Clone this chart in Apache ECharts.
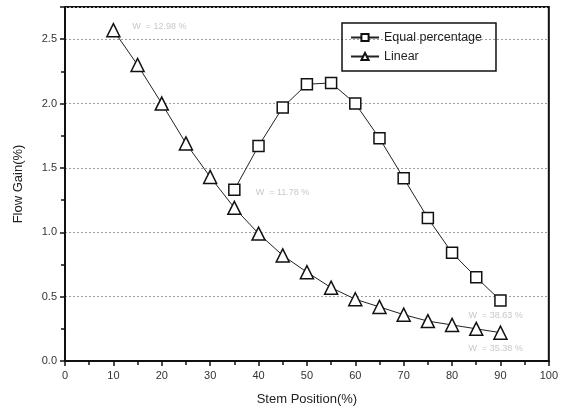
<!DOCTYPE html>
<html>
<head>
<meta charset="utf-8">
<script src="https://cdn.jsdelivr.net/npm/echarts@6/dist/echarts.min.js"></script>
<style>
  html, body { margin: 0; padding: 0; background: #fff; }
  #chart { width: 561px; height: 418px; }
</style>
</head>
<body>
<div id="chart"></div>
<script>
// stem position (%)
var stemEqual = [35, 40, 45, 50, 55, 60, 65, 70, 75, 80, 85, 90];
var gainEqual = [1.33, 1.67, 1.97, 2.15, 2.16, 2.00, 1.73, 1.42, 1.11, 0.84, 0.65, 0.47];
var stemLinear = [10, 15, 20, 25, 30, 35, 40, 45, 50, 55, 60, 65, 70, 75, 80, 85, 90];
var gainLinear = [2.57, 2.30, 2.00, 1.69, 1.43, 1.19, 0.99, 0.82, 0.69, 0.57, 0.48, 0.42, 0.36, 0.31, 0.28, 0.25, 0.22];
var seriesNames = ['Equal percentage', 'Linear'];

function pairs(xs, ys) {
  return xs.map(function (x, i) { return [x, ys[i]]; });
}

var font = 'Liberation Sans, Arial, sans-serif';
var chart = echarts.init(document.getElementById('chart'));

// faint annotations beside the curves (hard to read in the scan)
function note(coord, text) {
  return {
    coord: coord, symbolSize: 0,
    label: { show: true, formatter: text, position: 'right', color: '#c8c8c8', fontSize: 9, fontFamily: font, distance: 2 }
  };
}

chart.setOption({
  animation: false,
  grid: { left: 65, right: 11, top: 7, bottom: 57, show: true, borderColor: '#111', borderWidth: 2 },
  legend: {
    orient: 'vertical',
    left: 342, top: 23,
    borderColor: '#111', borderWidth: 1.5,
    padding: [8, 14, 8, 8],
    itemGap: 6, itemWidth: 28, itemHeight: 9,
    textStyle: { fontSize: 12.5, color: '#222', fontFamily: font },
    data: seriesNames
  },
  xAxis: {
    type: 'value', min: 0, max: 100, interval: 10,
    name: 'Stem Position(%)', nameLocation: 'middle', nameGap: 32,
    nameTextStyle: { fontSize: 13, color: '#222', fontFamily: font },
    axisLine: { lineStyle: { color: '#111', width: 2 } },
    axisTick: { length: 5, lineStyle: { color: '#111', width: 1.5 } },
    minorTick: { show: true, splitNumber: 2, length: 4, lineStyle: { color: '#111', width: 1.5 } },
    axisLabel: { fontSize: 11, color: '#333', fontFamily: font, margin: 9 },
    splitLine: { show: false }
  },
  yAxis: {
    type: 'value', min: 0, max: 2.75, interval: 0.5,
    name: 'Flow Gain(%)', nameLocation: 'middle', nameGap: 40,
    nameTextStyle: { fontSize: 13, color: '#222', fontFamily: font },
    axisLine: { lineStyle: { color: '#111', width: 2 } },
    axisTick: { length: 5, lineStyle: { color: '#111', width: 1.5 } },
    minorTick: { show: true, splitNumber: 2, length: 4, lineStyle: { color: '#111', width: 1.5 } },
    axisLabel: {
      fontSize: 11, color: '#333', fontFamily: font, margin: 8, showMaxLabel: false,
      formatter: function (v) { return v.toFixed(1); }
    },
    splitLine: { show: true, lineStyle: { color: '#a0a0a0', type: [2, 2], width: 1 } }
  },
  series: [
    {
      name: seriesNames[0], type: 'line',
      data: pairs(stemEqual, gainEqual),
      symbol: 'rect', symbolSize: 11,
      itemStyle: { color: '#fff', borderColor: '#111', borderWidth: 1.5 },
      lineStyle: { color: '#222', width: 1 },
      markPoint: {
        silent: true,
        data: [note([39, 1.31], 'W  = 11.78 %'), note([83, 0.35], 'W  = 38.63 %')]
      }
    },
    {
      name: seriesNames[1], type: 'line',
      data: pairs(stemLinear, gainLinear),
      symbol: 'triangle', symbolSize: 13,
      itemStyle: { color: '#fff', borderColor: '#111', borderWidth: 1.5 },
      lineStyle: { color: '#222', width: 1 },
      markPoint: {
        silent: true,
        data: [note([13.5, 2.6], 'W  = 12.98 %'), note([83, 0.10], 'W  = 35.38 %')]
      }
    }
  ]
});
</script>
</body>
</html>
